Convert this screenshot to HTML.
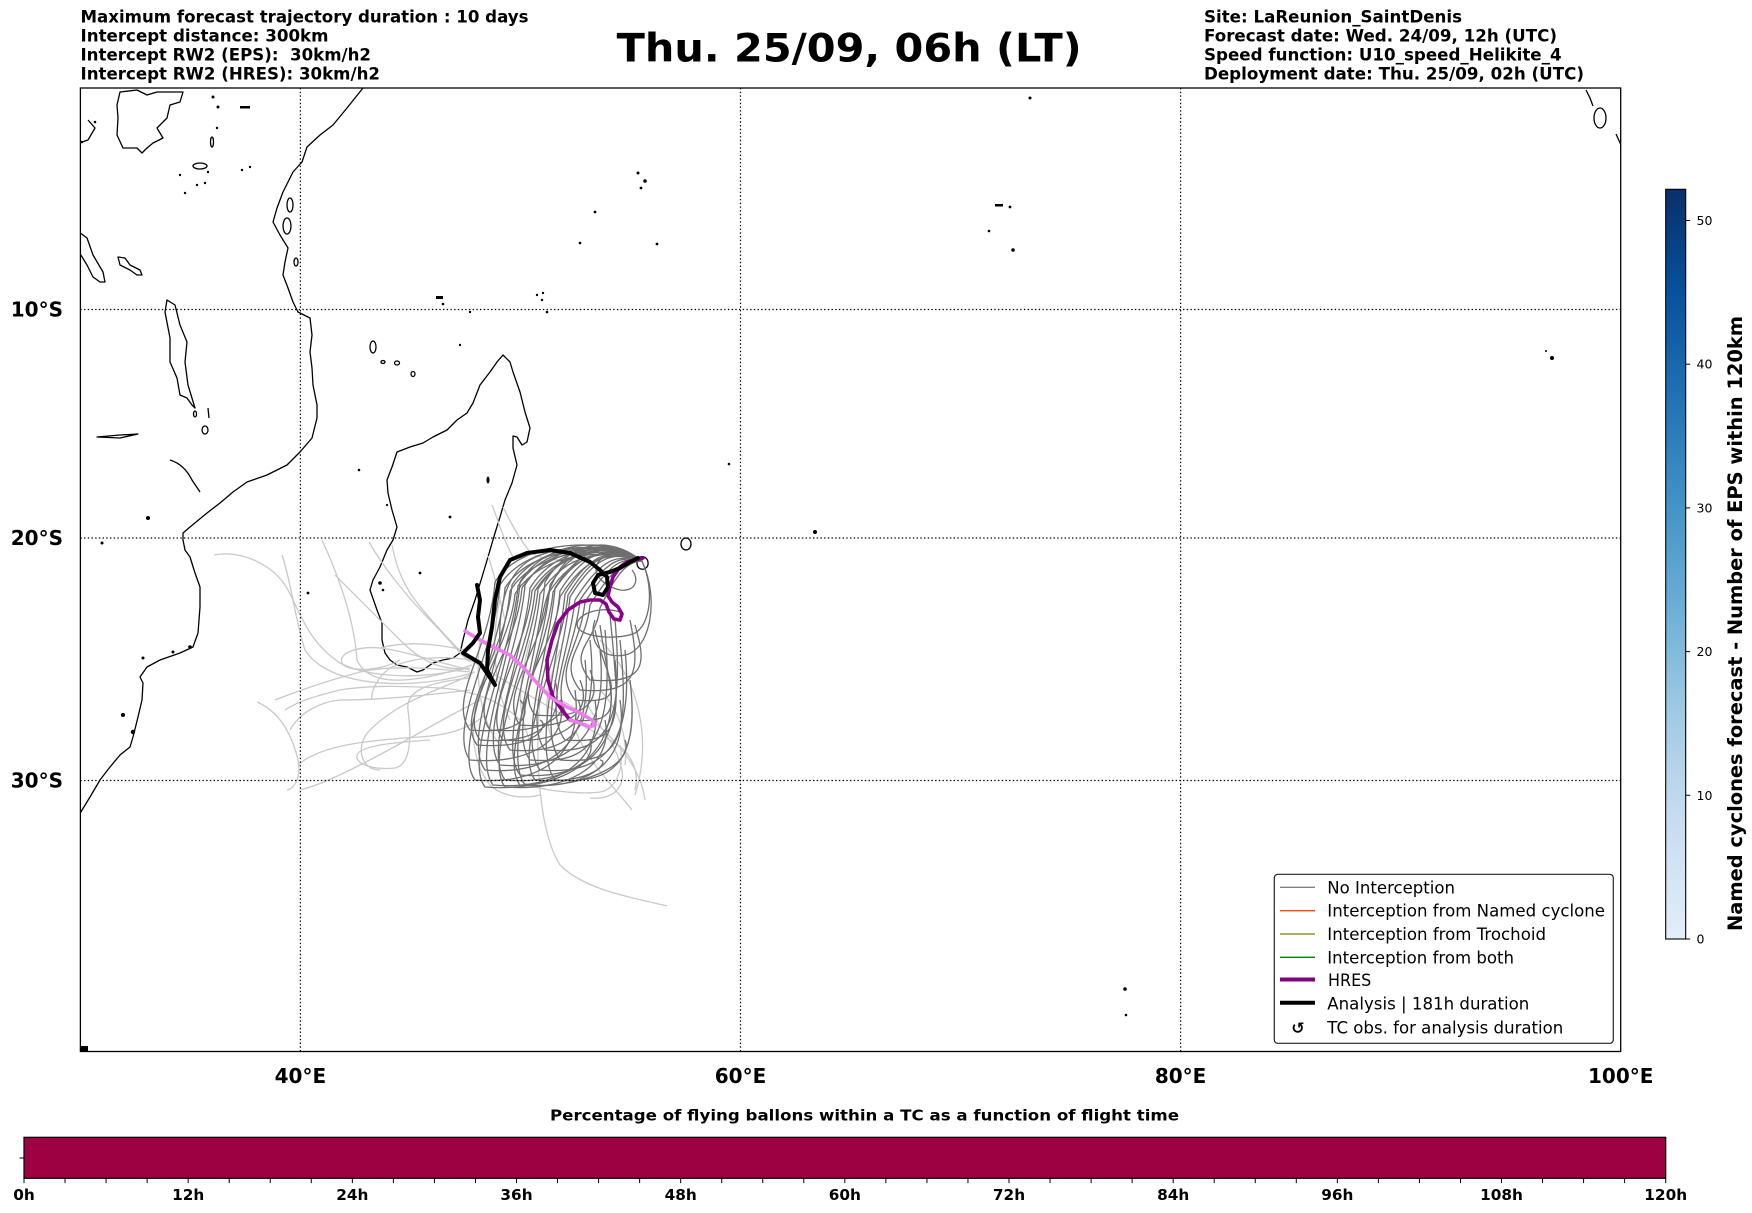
<!DOCTYPE html>
<html><head><meta charset="utf-8"><style>
html,body{margin:0;padding:0;background:#fff;}
svg{display:block;}
text{font-family:"DejaVu Sans","Liberation Sans",sans-serif;}
</style></head><body>
<svg width="1752" height="1213" viewBox="0 0 1752 1213" xmlns="http://www.w3.org/2000/svg">
<defs>
<clipPath id="map"><rect x="80.4" y="88" width="1540.3" height="963.5"/></clipPath>
<linearGradient id="blues" x1="0" y1="1" x2="0" y2="0">
<stop offset="0" stop-color="#e3eef9"/>
<stop offset="0.028" stop-color="#deebf7"/>
<stop offset="0.167" stop-color="#c6dbef"/>
<stop offset="0.306" stop-color="#9ecae1"/>
<stop offset="0.444" stop-color="#6baed6"/>
<stop offset="0.583" stop-color="#4292c6"/>
<stop offset="0.722" stop-color="#2171b5"/>
<stop offset="0.861" stop-color="#08519c"/>
<stop offset="1" stop-color="#08306b"/>
</linearGradient>
</defs>
<rect width="1752" height="1213" fill="#fff"/>

<!-- header -->
<g font-weight="bold" font-size="16.67" fill="#000" style="white-space:pre">
<text x="80.5" y="22.5" textLength="448" lengthAdjust="spacingAndGlyphs">Maximum forecast trajectory duration : 10 days</text>
<text x="80.5" y="41.5" textLength="248" lengthAdjust="spacingAndGlyphs">Intercept distance: 300km</text>
<text x="80.5" y="60.5" textLength="290.5" lengthAdjust="spacingAndGlyphs" xml:space="preserve">Intercept RW2 (EPS):  30km/h2</text>
<text x="80.5" y="79.5" textLength="299.5" lengthAdjust="spacingAndGlyphs">Intercept RW2 (HRES): 30km/h2</text>
<text x="1204" y="22.5" textLength="258" lengthAdjust="spacingAndGlyphs">Site: LaReunion_SaintDenis</text>
<text x="1204" y="41.5" textLength="353" lengthAdjust="spacingAndGlyphs">Forecast date: Wed. 24/09, 12h (UTC)</text>
<text x="1204" y="60.5" textLength="357.6" lengthAdjust="spacingAndGlyphs">Speed function: U10_speed_Helikite_4</text>
<text x="1204" y="79.5" textLength="380" lengthAdjust="spacingAndGlyphs">Deployment date: Thu. 25/09, 02h (UTC)</text>
</g>
<text x="616.7" y="61.5" font-size="38.9" font-weight="bold" textLength="465" lengthAdjust="spacingAndGlyphs">Thu. 25/09, 06h (LT)</text>

<g clip-path="url(#map)">
<!-- coastlines -->
<g fill="none" stroke="#000" stroke-width="1.3" stroke-linejoin="round">
<path d="M363,88 L347,108 L333,125 L320,135 L307,147 L302,162 L293,172 L283,192 L277,208 L273,222 L280,235 L288,248 L285,262 L283,275 L288,288 L293,302 L298,312 L310,318 L312,335 L310,352 L312,368 L313,385 L317,405 L317,418 L312,438 L300,452 L287,465 L267,475 L247,482 L233,492 L220,503 L207,513 L190,527 L183,533 L183,540 L185,550 L190,557 L195,573 L200,587 L200,607 L198,633 L193,647 L180,653 L160,660 L147,667 L140,677 L143,683 L142,700 L138,717 L133,737 L130,747 L120,755 L110,767 L100,780 L90,797 L79,815"/>
<path d="M503,355 L510,362 L513,372 L520,392 L525,412 L530,428 L527,442 L522,445 L517,437 L513,436 L513,448 L517,465 L512,483 L505,500 L500,517 L495,533 L488,557 L482,577 L475,600 L468,620 L463,640 L460,653 L453,658 L443,660 L433,663 L423,670 L417,672 L407,667 L397,665 L390,660 L385,653 L382,640 L382,623 L377,610 L370,590 L373,580 L380,567 L387,550 L393,540 L397,527 L392,510 L388,493 L387,480 L392,467 L397,452 L410,447 L423,443 L433,437 L447,430 L457,420 L467,413 L473,403 L480,385 L490,372 L497,362 Z"/>
<path d="M120,92 L137,90 L147,95 L157,92 L183,92 L180,102 L170,105 L167,118 L157,128 L163,138 L153,143 L147,148 L142,153 L137,148 L123,148 L117,135 L118,118 L117,105 Z"/>
<path d="M79,232 L87,238 L93,255 L103,272 L105,282 L100,282 L93,277 L87,265 L79,252"/>
<path d="M167,300 L175,305 L180,325 L187,342 L185,362 L188,385 L195,408 L192,405 L187,398 L180,395 L177,378 L170,362 L170,338 L165,312 Z"/>
<path d="M118,257 L125,258 L130,265 L140,270 L142,275 L137,275 L130,270 L120,265 Z"/>
<path d="M97,437 L120,435 L138,434 L120,438 Z"/>
<path d="M170,460 C180,463 187,470 192,480 L200,492"/>
<ellipse cx="205" cy="430" rx="3" ry="4"/>
<ellipse cx="195" cy="414" rx="1.5" ry="3"/>
<path d="M208,408 L209,418"/>
<ellipse cx="290" cy="205" rx="3" ry="7"/>
<ellipse cx="287" cy="226" rx="4" ry="8"/>
<ellipse cx="296" cy="262" rx="2" ry="4"/>
<ellipse cx="373" cy="347" rx="3" ry="6"/>
<ellipse cx="383" cy="362" rx="2" ry="1.5"/>
<ellipse cx="397" cy="363" rx="2.5" ry="2"/>
<ellipse cx="413" cy="374" rx="2" ry="2.5"/>
<ellipse cx="686" cy="544" rx="5" ry="6"/>
<path d="M638,559 C640,555 647,556 648,562 C649,568 643,571 639,568 C636,565 637,561 638,559 Z"/>
<ellipse cx="1600" cy="118" rx="6" ry="10"/>
<path d="M1586,90 L1590,98 L1593,106"/>
<path d="M1616,134 L1621,145"/>
<ellipse cx="200" cy="166" rx="7" ry="3"/>
<ellipse cx="212" cy="142" rx="1.5" ry="5"/>
<path d="M88,120 L95,128 L88,140 L82,142"/>
</g>
<g fill="#000">
<circle cx="213" cy="97" r="1.5"/><circle cx="218" cy="107" r="1.5"/><rect x="240" y="106" width="10" height="2.5"/>
<circle cx="217" cy="128" r="1.2"/><circle cx="180" cy="175" r="1.2"/><circle cx="242" cy="170" r="1.2"/><circle cx="250" cy="167" r="1.2"/>
<circle cx="185" cy="193" r="1.2"/><circle cx="197" cy="185" r="1.2"/><circle cx="205" cy="183" r="1.2"/><circle cx="208" cy="172" r="1.2"/>
<circle cx="82" cy="142" r="1.3"/><circle cx="95" cy="122" r="1.3"/>
<rect x="436" y="296" width="7" height="3"/><circle cx="443" cy="304" r="1.3"/><circle cx="460" cy="345" r="1.2"/>
<circle cx="470" cy="312" r="1.2"/><circle cx="547" cy="312" r="1.3"/><circle cx="537" cy="295" r="1.2"/><circle cx="543" cy="293" r="1.2"/><circle cx="542" cy="300" r="1.2"/>
<circle cx="638" cy="173" r="1.5"/><circle cx="645" cy="181" r="1.8"/><circle cx="641" cy="188" r="1.4"/><circle cx="657" cy="244" r="1.4"/><circle cx="595" cy="212" r="1.4"/><circle cx="580" cy="243" r="1.3"/>
<rect x="995" y="204" width="8" height="2.5"/><circle cx="1010" cy="207" r="1.4"/><circle cx="989" cy="231" r="1.3"/><circle cx="1013" cy="250" r="1.8"/>
<circle cx="1030" cy="98" r="1.5"/>
<circle cx="729" cy="464" r="1.3"/><circle cx="815" cy="532" r="2"/>
<circle cx="1546" cy="351" r="1"/><circle cx="1552" cy="358" r="2"/>
<circle cx="1125" cy="989" r="1.8"/><circle cx="1126" cy="1015" r="1.3"/>
<circle cx="359" cy="470" r="1.3"/><circle cx="380" cy="583" r="1.8"/><circle cx="383" cy="590" r="1.3"/><circle cx="420" cy="573" r="1.4"/><circle cx="450" cy="517" r="1.4"/>
<ellipse cx="488" cy="480" rx="1.5" ry="3.5"/><circle cx="387" cy="505" r="1.1"/><circle cx="308" cy="593" r="1.4"/>
<circle cx="148" cy="518" r="2"/><circle cx="102" cy="543" r="1.5"/><circle cx="143" cy="658" r="1.5"/><circle cx="123" cy="715" r="2"/><circle cx="133" cy="732" r="2.2"/>
<circle cx="173" cy="652" r="1.5"/><circle cx="190" cy="647" r="1.8"/>
<rect x="80" y="1046" width="8" height="6"/>
</g>

<!-- light gray trajectories -->
<g fill="none" stroke="#c9c9c9" stroke-width="1.3">
<path d="M468,668 C420,680 370,678 340,663 C305,640 298,605 285,585 C270,563 240,550 214,555"/>
<path d="M475,672 C420,690 330,690 305,650 C295,620 292,585 282,555"/>
<path d="M472,665 C420,682 370,690 357,660 C355,630 345,590 322,540"/>
<path d="M470,670 C430,660 400,650 380,648 C360,646 338,652 342,663 C346,672 380,672 400,660"/>
<path d="M257,702 C280,712 292,735 298,760 C302,780 292,790 287,790"/>
<path d="M298,765 C320,745 370,740 420,737 C450,735 470,728 485,715"/>
<path d="M470,678 C430,682 405,690 408,710 C412,740 410,765 395,768 C375,770 355,765 357,755 C360,745 400,742 430,740"/>
<path d="M540,700 C535,750 538,830 560,865 C585,890 630,897 667,906"/>
<path d="M575,730 C590,765 610,782 632,810"/>
<path d="M503,507 C512,525 520,540 530,552 C540,560 560,560 580,562"/>
<path d="M492,505 C500,525 505,545 515,560"/>
<path d="M369,542 C385,570 410,600 430,620 C450,640 460,655 470,662"/>
<path d="M488,556 C495,575 500,600 505,620"/>
<path d="M470,690 C430,695 380,700 340,700 C320,702 300,712 290,730"/>
<path d="M480,700 C440,720 400,745 360,765 C340,775 320,785 300,790"/>
<path d="M470,660 C440,655 410,658 390,668 C380,675 370,690 372,700"/>
<path d="M520,780 C530,790 580,795 600,792 C615,790 625,770 620,745"/>
<path d="M480,690 C470,720 470,760 490,785 C500,795 520,800 540,795"/>
<path d="M600,690 C620,710 628,740 625,765"/>
<path d="M470,668 C440,672 420,660 400,640 C380,620 360,600 335,575"/>
<path d="M465,650 C440,645 410,640 380,648"/>
<path d="M520,720 C500,700 470,690 440,688 C400,686 370,685 340,690 C320,695 300,700 285,710"/>
<path d="M500,600 C490,640 495,690 510,720"/>
<path d="M530,640 C520,680 515,710 530,740"/>
<path d="M560,650 C545,690 540,720 560,760"/>
<path d="M480,640 C475,680 480,720 500,745"/>
<path d="M470,675 C440,690 400,700 370,730 C355,745 360,770 380,770"/>
<path d="M470,672 C430,668 390,665 360,672 C330,680 300,690 275,700"/>
<path d="M585,700 C600,730 615,740 622,770 C625,790 610,800 590,798"/>
<path d="M470,662 C450,640 430,620 415,600 C400,580 395,560 392,545"/>
<path d="M600,640 C640,680 652,740 635,795"/>
<path d="M560,700 C600,720 640,760 645,800"/>
<path d="M470,660 C520,690 570,720 610,740 C630,750 640,770 635,790"/>
</g>

<!-- dark gray trajectories -->
<g fill="none" stroke="#6e6e6e" stroke-width="1.3">
<path d="M642,561 C612,540 528,540 500,585 C495,650 447,730 470,760 C530,765 570,740 560,700"/>
<path d="M642,561 C612,543 533,543 505,588 C500,650 452,750 475,780 C535,785 585,760 575,690"/>
<path d="M642,561 C612,546 538,546 510,591 C505,650 462,740 485,770 C545,775 595,750 585,660"/>
<path d="M642,561 C612,549 543,549 515,594 C510,650 457,710 480,740 C540,745 565,720 555,680"/>
<path d="M642,561 C612,537 548,537 520,582 C515,650 470,755 493,785 C553,790 605,765 595,700"/>
<path d="M642,561 C612,540 553,540 525,585 C520,650 477,735 500,765 C560,770 610,745 600,650"/>
<path d="M642,561 C612,543 558,543 530,588 C525,650 482,750 505,780 C565,785 620,760 610,680"/>
<path d="M642,561 C612,546 563,546 535,591 C530,650 487,720 510,750 C570,755 600,730 590,640"/>
<path d="M642,561 C612,549 568,549 540,594 C535,650 497,745 520,775 C580,780 625,755 615,660"/>
<path d="M642,561 C612,537 573,537 545,582 C540,650 502,755 525,785 C585,790 630,765 620,700"/>
<path d="M642,561 C612,540 578,540 550,585 C545,650 507,730 530,760 C590,765 615,740 605,630"/>
<path d="M642,561 C612,543 583,543 555,588 C550,650 517,740 540,770 C600,775 635,750 625,650"/>
<path d="M642,561 C612,546 588,546 560,591 C555,650 522,720 545,750 C605,755 625,730 615,620"/>
<path d="M642,561 C612,549 593,549 565,594 C560,650 532,750 555,780 C615,785 640,760 630,680"/>
<path d="M642,561 C615,552 598,552 570,597 C565,650 537,730 560,760 C620,765 630,740 620,640"/>
<path d="M642,561 C618,555 603,555 575,600 C570,650 542,710 565,740 C625,745 620,720 610,615"/>
<path d="M642,561 C620,556 608,558 580,600 C575,650 547,690 570,720 C630,725 610,700 600,625"/>
<path d="M642,561 C622,558 612,560 585,602 C580,650 552,670 575,700 C635,705 605,680 595,630"/>
<path d="M642,561 C625,560 615,565 590,605 C585,650 557,660 580,690 C640,695 640,670 630,620"/>
<path d="M642,561 C628,562 618,570 600,608 C595,645 567,650 590,680 C650,685 645,660 635,625"/>
<path d="M642,561 C612,540 540,540 512,585 C507,650 454,715 477,745 C537,750 550,725 540,720"/>
<path d="M642,561 C612,543 550,543 522,588 C517,650 467,700 490,730 C550,735 570,710 560,700"/>
<path d="M642,561 C612,546 560,546 532,591 C527,650 480,710 503,740 C563,745 588,720 578,700"/>
<path d="M642,561 C612,549 576,549 548,594 C543,650 497,695 520,725 C580,730 590,705 580,680"/>
<path d="M642,561 C612,552 588,552 560,597 C555,650 512,685 535,715 C595,720 600,695 590,670"/>
<path d="M642,561 C612,537 523,537 495,582 C490,650 447,700 470,730 C530,735 530,710 520,700"/>
<path d="M642,561 C612,541 546,541 518,586 C513,650 462,757 485,787 C545,792 600,767 590,740"/>
<path d="M642,561 C612,544 566,544 538,589 C533,650 482,757 505,787 C565,792 615,767 605,720"/>
<path d="M642,561 C612,547 581,547 553,592 C548,650 497,755 520,785 C580,790 635,765 625,740"/>
<path d="M642,561 C612,550 596,550 568,595 C563,650 512,750 535,780 C595,785 610,760 600,760"/>
<path d="M642,561 C655,590 650,625 635,633 C620,640 585,638 578,628 C572,615 600,605 620,612"/>
<path d="M642,561 C660,600 650,650 625,655 C600,660 588,640 595,620"/>
<path d="M642,561 C622,545 560,542 530,560 C505,575 498,610 500,650"/>
<path d="M642,561 C625,548 600,545 580,552 C560,560 545,590 540,630"/>
<path d="M642,561 C630,552 610,552 600,560 C590,570 600,585 620,590 C635,592 640,580 632,570"/>
</g>

<!-- HRES -->
<g fill="none" stroke-width="3.6" stroke-linejoin="round" stroke-linecap="round">
<path stroke="#8b008b" d="M643,558 L635,560 L627,562 L620,567 L613,577 L610,587 L608,596 L612,602 L618,607 L622,614 L620,620 L614,619 L609,612 L606,604 L600,600 L590,600 L580,602 L568,610 L558,623 L552,640 L547,660 L548,680 L553,697 L562,710 L570,720"/>
<path stroke="#ee7cee" d="M570,720 L580,723 L590,727 L595,725 L592,720 L580,713 L567,707 L550,697 L537,683 L523,667 L510,655 L493,647 L480,640 L465,631"/>
</g>
<!-- Analysis -->
<path fill="none" stroke="#000" stroke-width="4" stroke-linejoin="round" stroke-linecap="round" d="M638,558 L630,562 L620,568 L610,572 L598,575 L593,583 L595,593 L603,595 L608,587 L607,577 L600,570 L590,562 L570,553 L550,550 L527,553 L510,560 L500,577 L495,600 L492,627 L488,650 L487,670 L495,685 L480,663 L463,653 L473,643 L480,633 L478,617 L480,600 L477,585"/>

<!-- gridlines -->
<g stroke="#000" stroke-width="1.2" stroke-dasharray="1.4,2.3" fill="none">
<path d="M300.4,88 V1052 M740.5,88 V1052 M1180.6,88 V1052"/>
<path d="M80.4,309.5 H1621 M80.4,538 H1621 M80.4,780.5 H1621"/>
</g>
</g>
<rect x="80.4" y="88" width="1540.3" height="963.5" fill="none" stroke="#000" stroke-width="1.3"/>

<!-- axis labels -->
<g font-size="20" font-weight="bold" fill="#000">
<text x="63" y="316.5" text-anchor="end">10°S</text>
<text x="63" y="545" text-anchor="end">20°S</text>
<text x="63" y="787.5" text-anchor="end">30°S</text>
<text x="300.4" y="1083" text-anchor="middle">40°E</text>
<text x="740.5" y="1083" text-anchor="middle">60°E</text>
<text x="1180.6" y="1083" text-anchor="middle">80°E</text>
<text x="1620.7" y="1083" text-anchor="middle">100°E</text>
</g>

<!-- legend -->
<rect x="1274.3" y="874.3" width="339" height="169" rx="3.5" fill="#fff" stroke="#222" stroke-width="1.2"/>
<g stroke-width="1.3">
<line x1="1280" y1="887.3" x2="1315" y2="887.3" stroke="#808080"/>
<line x1="1280" y1="910.7" x2="1315" y2="910.7" stroke="#ff4500"/>
<line x1="1280" y1="934" x2="1315" y2="934" stroke="#808000"/>
<line x1="1280" y1="957.3" x2="1315" y2="957.3" stroke="#008000"/>
<line x1="1280" y1="979.5" x2="1315" y2="979.5" stroke="#800080" stroke-width="4"/>
<line x1="1280" y1="1002.7" x2="1315" y2="1002.7" stroke="#000" stroke-width="4"/>
</g>
<text x="1298" y="1033.5" font-size="16" font-weight="bold" text-anchor="middle">↺</text>
<g font-size="16.67" fill="#000">
<text x="1327.3" y="893.3" textLength="127.7" lengthAdjust="spacingAndGlyphs">No Interception</text>
<text x="1327.3" y="916.7" textLength="277.7" lengthAdjust="spacingAndGlyphs">Interception from Named cyclone</text>
<text x="1327.3" y="940" textLength="218.7" lengthAdjust="spacingAndGlyphs">Interception from Trochoid</text>
<text x="1327.3" y="963.3" textLength="186.7" lengthAdjust="spacingAndGlyphs">Interception from both</text>
<text x="1328" y="986" textLength="43.3" lengthAdjust="spacingAndGlyphs">HRES</text>
<text x="1327.3" y="1009.3" textLength="202" lengthAdjust="spacingAndGlyphs">Analysis | 181h duration</text>
<text x="1327.3" y="1033.7" textLength="236" lengthAdjust="spacingAndGlyphs">TC obs. for analysis duration</text>
</g>

<!-- right colorbar -->
<rect x="1665.7" y="189.3" width="20" height="749.7" fill="url(#blues)" stroke="#000" stroke-width="1.1"/>
<g stroke="#000" stroke-width="1">
<line x1="1685.7" y1="939" x2="1690.2" y2="939"/>
<line x1="1685.7" y1="795.3" x2="1690.2" y2="795.3"/>
<line x1="1685.7" y1="651.6" x2="1690.2" y2="651.6"/>
<line x1="1685.7" y1="507.9" x2="1690.2" y2="507.9"/>
<line x1="1685.7" y1="364.2" x2="1690.2" y2="364.2"/>
<line x1="1685.7" y1="220.5" x2="1690.2" y2="220.5"/>
</g>
<g font-size="12.5" fill="#000">
<text x="1696.5" y="943.5">0</text>
<text x="1696.5" y="799.8">10</text>
<text x="1696.5" y="656.1">20</text>
<text x="1696.5" y="512.4">30</text>
<text x="1696.5" y="368.7">40</text>
<text x="1696.5" y="225">50</text>
</g>
<text transform="translate(1742,623.5) rotate(-90)" text-anchor="middle" font-size="19.4" font-weight="bold" textLength="615" lengthAdjust="spacingAndGlyphs">Named cyclones forecast - Number of EPS within 120km</text>

<!-- bottom colorbar -->
<text x="550" y="1120.7" font-size="15.3" font-weight="bold" textLength="629" lengthAdjust="spacingAndGlyphs">Percentage of flying ballons within a TC as a function of flight time</text>
<rect x="24" y="1137.3" width="1641.7" height="41" fill="#9e0142" stroke="#000" stroke-width="1.2"/>
<line x1="19.5" y1="1158" x2="24" y2="1158" stroke="#000" stroke-width="1"/>
<g stroke="#000" stroke-width="1">
<path d="M24,1178.3v4.8 M65.04,1178.3v4.8 M106.08,1178.3v4.8 M147.13,1178.3v4.8 M188.17,1178.3v4.8 M229.21,1178.3v4.8 M270.25,1178.3v4.8 M311.29,1178.3v4.8 M352.34,1178.3v4.8 M393.38,1178.3v4.8 M434.42,1178.3v4.8 M475.46,1178.3v4.8 M516.5,1178.3v4.8 M557.54,1178.3v4.8 M598.59,1178.3v4.8 M639.63,1178.3v4.8 M680.67,1178.3v4.8 M721.71,1178.3v4.8 M762.75,1178.3v4.8 M803.79,1178.3v4.8 M844.84,1178.3v4.8 M885.88,1178.3v4.8 M926.92,1178.3v4.8 M967.96,1178.3v4.8 M1009,1178.3v4.8 M1050.04,1178.3v4.8 M1091.09,1178.3v4.8 M1132.13,1178.3v4.8 M1173.17,1178.3v4.8 M1214.21,1178.3v4.8 M1255.25,1178.3v4.8 M1296.29,1178.3v4.8 M1337.34,1178.3v4.8 M1378.38,1178.3v4.8 M1419.42,1178.3v4.8 M1460.46,1178.3v4.8 M1501.5,1178.3v4.8 M1542.54,1178.3v4.8 M1583.59,1178.3v4.8 M1624.63,1178.3v4.8 M1665.7,1178.3v4.8"/>
</g>
<g font-size="15.3" font-weight="bold" text-anchor="middle" fill="#000">
<text x="24" y="1200">0h</text>
<text x="188.17" y="1200">12h</text>
<text x="352.34" y="1200">24h</text>
<text x="516.5" y="1200">36h</text>
<text x="680.67" y="1200">48h</text>
<text x="844.84" y="1200">60h</text>
<text x="1009" y="1200">72h</text>
<text x="1173.17" y="1200">84h</text>
<text x="1337.34" y="1200">96h</text>
<text x="1501.5" y="1200">108h</text>
<text x="1665.7" y="1200">120h</text>
</g>
</svg>
</body></html>
